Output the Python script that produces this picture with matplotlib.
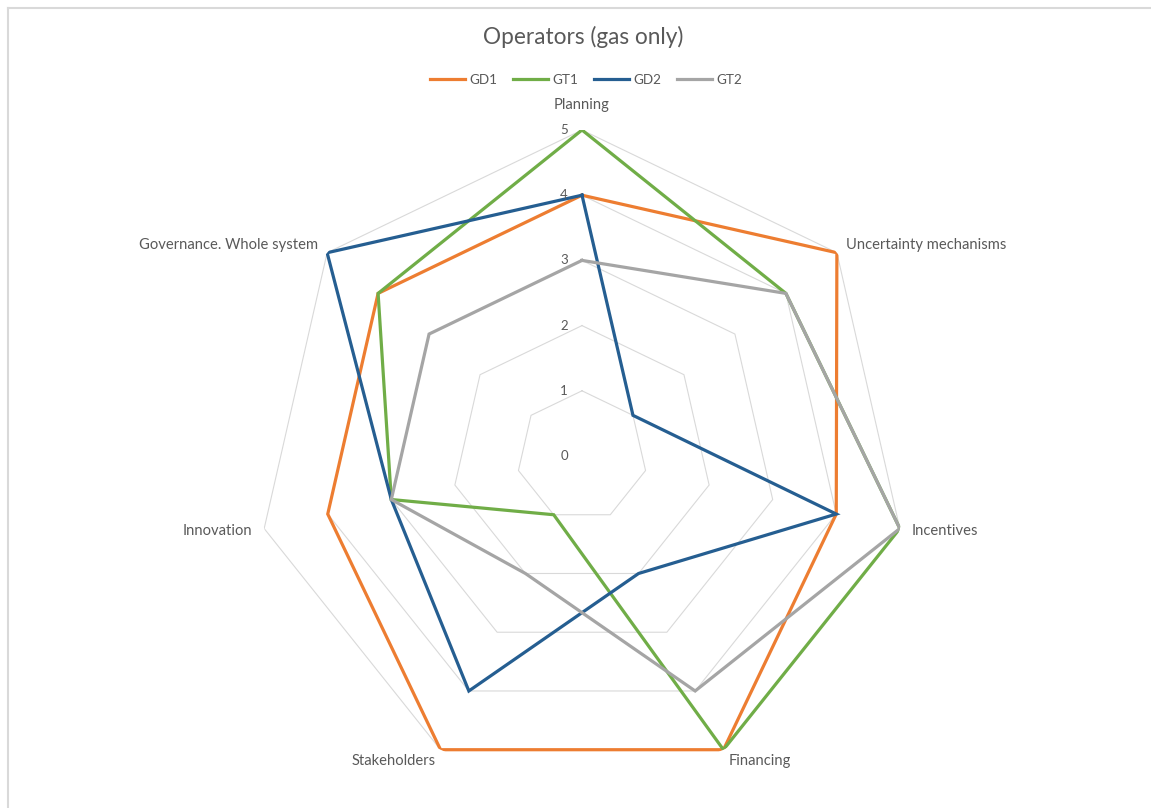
import numpy as np
import matplotlib
matplotlib.use("Agg")
import matplotlib.pyplot as plt
from matplotlib.lines import Line2D
from matplotlib.transforms import offset_copy

plt.rcParams['font.family'] = ['Lato', 'DejaVu Sans']

# Categories (clockwise from top) and scores per operator
categories = ["Planning", "Uncertainty mechanisms", "Incentives", "Financing",
              "Stakeholders", "Innovation", "Governance. Whole system"]
series_names = ["GD1", "GT1", "GD2", "GT2"]
gd1 = [4, 5, 4, 5, 5, 4, 4]
gt1 = [5, 4, 5, 5, 1, 3, 4]
gd2 = [4, 1, 4, 2, 4, 3, 5]
gt2 = [3, 4, 5, 4, 2, 3, 3]
series_values = [gd1, gt1, gd2, gt2]
series_colors = ["#ED7D31", "#70AD47", "#255E91", "#A5A5A5"]
ring_levels = [0, 1, 2, 3, 4, 5]

W, H, DPI = 1151, 808, 100
fig = plt.figure(figsize=(W / DPI, H / DPI), dpi=DPI)

# polar axes centred on the chart area
cx, cy, R = 582, 456, 326
ax = fig.add_axes([(cx - R) / W, (H - cy - R) / H, 2 * R / W, 2 * R / H],
                  projection='polar')
ax.set_theta_offset(np.pi / 2)
ax.set_theta_direction(-1)
ax.set_ylim(0, max(ring_levels))
ax.grid(False)
ax.spines['polar'].set_visible(False)
ax.set_xticks([])
ax.set_yticks([])
ax.patch.set_alpha(0)

n = len(categories)
theta = np.linspace(0, 2 * np.pi, n, endpoint=False)
theta_closed = np.append(theta, theta[0])

# heptagon gridlines
for lv in ring_levels[1:]:
    ax.plot(theta_closed, [lv] * (n + 1), color="#D9D9D9", lw=0.8, zorder=1)

# data series
for name, vals, col in zip(series_names, series_values, series_colors):
    ax.plot(theta_closed, list(vals) + [vals[0]], color=col, lw=2.3,
            label=name, zorder=3, solid_joinstyle='miter')

text_col = "#595959"

# radial value labels next to the top spoke
tick_tr = offset_copy(ax.transData, fig=fig, x=-18, y=0, units='dots')
for lv in ring_levels:
    ax.text(0, lv, str(lv), transform=tick_tr, ha='center', va='center',
            fontsize=9.5, color=text_col)

# category labels just outside the outer ring
for ang, lab in zip(theta, categories):
    dx, dy = np.sin(ang), np.cos(ang)
    if dy > 0.95:
        ha, va, ox, oy = 'center', 'bottom', 0, 18
    else:
        ha = 'left' if dx > 0.1 else ('right' if dx < -0.1 else 'center')
        va = 'center'
        ox, oy = 12 * dx, 12 * dy
    tr = offset_copy(ax.transData, fig=fig, x=ox, y=oy, units='dots')
    ax.text(ang, max(ring_levels), lab, transform=tr, ha=ha, va=va,
            fontsize=10.6, color=text_col)

fig.text(583 / W, 1 - 37 / H, "Operators (gas only)", ha='center', va='center',
         fontsize=16.3, color=text_col)

handles = [Line2D([], [], color=c, lw=2.3) for c in series_colors]
fig.legend(handles, series_names, loc='center', ncol=4,
           bbox_to_anchor=(586 / W, 1 - 80 / H), frameon=False,
           fontsize=9.7, handlelength=2.6, handletextpad=0.3,
           columnspacing=1.2, labelcolor=text_col)

# chart-area frame (top and left edges visible)
fig.add_artist(Line2D([8 / W, 1.0], [1 - 8 / H, 1 - 8 / H],
                      transform=fig.transFigure, color="#D9D9D9", lw=1.5))
fig.add_artist(Line2D([8 / W, 8 / W], [1 - 8 / H, 0.0],
                      transform=fig.transFigure, color="#D9D9D9", lw=1.5))

fig.savefig("out.png", dpi=DPI, facecolor="white")
